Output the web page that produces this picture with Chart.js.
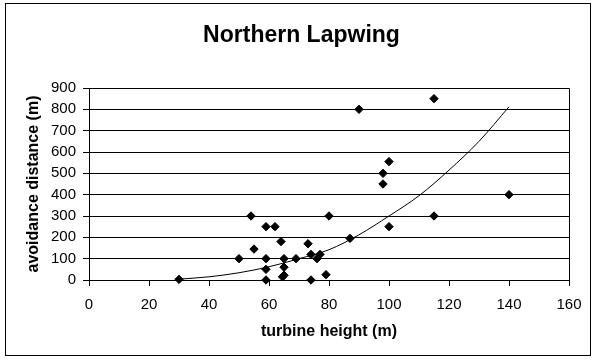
<!DOCTYPE html>
<html>
<head>
<meta charset="utf-8">
<script src="https://cdn.jsdelivr.net/npm/chart.js@4/dist/chart.umd.min.js"></script>
<style>
  html, body { margin: 0; padding: 0; background: #fff; }
  #wrap { width: 595px; height: 360px; position: relative; }
</style>
</head>
<body>
<div id="wrap"><canvas id="c" width="595" height="360"></canvas></div>
<script>
// Observed data: turbine height (m) vs avoidance distance (m)
const heights   = [30, 50, 54, 55, 59, 62, 59, 59, 59, 64, 65, 65, 65, 64.5, 69, 73, 74, 74, 76, 77, 80, 79, 87, 90, 98, 98, 100, 100, 115, 115, 140];
const distances = [3, 100, 300, 145, 250, 250, 100, 50, 0, 180, 100, 60, 22, 15, 100, 170, 120, 0, 100, 120, 300, 25, 195, 800, 500, 450, 555, 250, 850, 300, 400];

// Trend line
const trendX = [30, 40, 50, 60, 70, 80, 90, 100, 110, 120, 130, 140];
const trendY = [4, 15, 34, 62, 100, 142, 212, 300, 395, 515, 650, 812];

const xTicks = [0, 20, 40, 60, 80, 100, 120, 140, 160];
const yTicks = [0, 100, 200, 300, 400, 500, 600, 700, 800, 900];

const titleText = 'Northern Lapwing';
const xTitle = 'turbine height (m)';
const yTitle = 'avoidance distance (m)';

const FONT = '"Liberation Sans", Arial, sans-serif';

const frame = {
  id: 'frame',
  beforeDraw(chart) {
    const ctx = chart.ctx;
    ctx.save();
    ctx.fillStyle = '#ffffff';
    ctx.fillRect(0, 0, chart.width, chart.height);
    ctx.strokeStyle = '#000000';
    ctx.lineWidth = 1;
    ctx.strokeRect(5.5, 3.5, 585, 352);
    // chart title
    ctx.fillStyle = '#000000';
    ctx.font = 'bold 23px ' + FONT;
    ctx.textAlign = 'center';
    ctx.textBaseline = 'middle';
    ctx.fillText(titleText, 301.5, 35.5);
    ctx.restore();
  },
  afterDatasetsDraw(chart) {
    const a = chart.chartArea;
    const ctx = chart.ctx;
    ctx.save();
    ctx.strokeStyle = '#000000';
    ctx.lineWidth = 1;
    ctx.beginPath();
    ctx.moveTo(Math.round(a.left) + 0.5, Math.round(a.top) + 0.5);
    ctx.lineTo(Math.round(a.right) + 0.5, Math.round(a.top) + 0.5);
    ctx.lineTo(Math.round(a.right) + 0.5, Math.round(a.bottom) + 0.5);
    ctx.stroke();
    ctx.restore();
  }
};

new Chart(document.getElementById('c'), {
  type: 'scatter',
  data: {
    datasets: [
      {
        type: 'line',
        label: 'trend',
        data: trendX.map((x, i) => ({ x: x, y: trendY[i] })),
        borderColor: '#000000',
        borderWidth: 1,
        pointRadius: 0,
        tension: 0.4,
        cubicInterpolationMode: 'monotone',
        fill: false,
        clip: false
      },
      {
        label: 'observations',
        data: heights.map((x, i) => ({ x: x, y: distances[i] })),
        pointStyle: 'rectRot',
        pointRadius: 4.2,
        pointBackgroundColor: '#000000',
        pointBorderColor: '#000000',
        pointBorderWidth: 1,
        clip: false
      }
    ]
  },
  options: {
    responsive: false,
    animation: false,
    devicePixelRatio: 1,
    layout: { padding: { left: 0, right: 26, top: 88, bottom: 0 } },
    plugins: {
      legend: { display: false },
      tooltip: { enabled: false },
      title: { display: false }
    },
    scales: {
      x: {
        type: 'linear',
        min: 0, max: 160,
        afterFit(scale) { scale.height = 80; },
        afterBuildTicks(scale) { scale.ticks = xTicks.map(v => ({ value: v })); },
        ticks: {
          color: '#000000',
          font: { family: FONT, size: 15, lineHeight: 1.2 },
          padding: 10,
          maxRotation: 0
        },
        grid: {
          drawOnChartArea: false,
          drawTicks: true,
          tickLength: 6,
          color: '#000000',
          lineWidth: 1
        },
        border: { display: true, color: '#000000', width: 1 },
        title: {
          display: true,
          text: xTitle,
          color: '#000000',
          font: { family: FONT, size: 16, weight: 'bold', lineHeight: 1.2 },
          padding: { top: 0, bottom: 18.4 }
        }
      },
      y: {
        type: 'linear',
        min: 0, max: 900,
        afterFit(scale) { scale.width = 89; },
        afterBuildTicks(scale) { scale.ticks = yTicks.map(v => ({ value: v })); },
        ticks: {
          color: '#000000',
          font: { family: FONT, size: 15, lineHeight: 1.2 },
          padding: 7
        },
        grid: {
          drawOnChartArea: true,
          drawTicks: true,
          tickLength: 6,
          color: '#000000',
          lineWidth: 1
        },
        border: { display: true, color: '#000000', width: 1 },
        title: {
          display: true,
          text: yTitle,
          color: '#000000',
          font: { family: FONT, size: 16, weight: 'bold', lineHeight: 1.2 },
          padding: { top: 24.4, bottom: 0 }
        }
      }
    }
  },
  plugins: [frame]
});
</script>
</body>
</html>
